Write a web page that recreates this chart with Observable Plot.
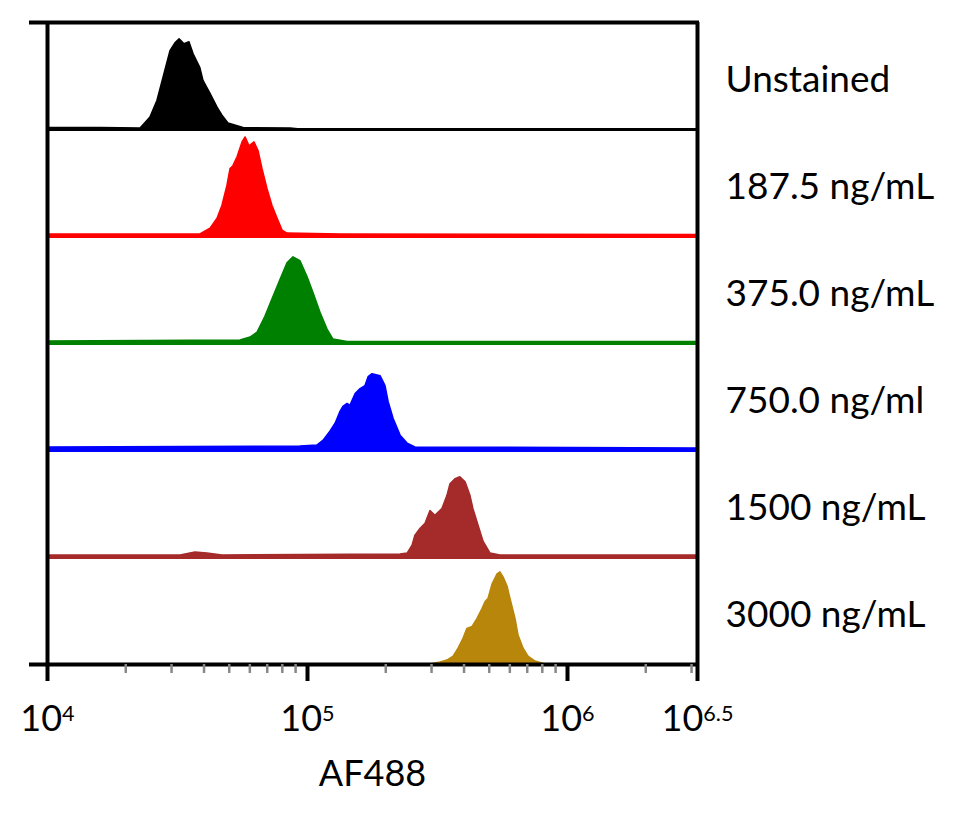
<!DOCTYPE html>
<html>
<head>
<meta charset="utf-8">
<script src="https://cdn.jsdelivr.net/npm/d3@7"></script>
<script src="https://cdn.jsdelivr.net/npm/@observablehq/plot@0.6"></script>
<style>
  body { margin: 0; background: #fff; }
</style>
</head>
<body>
<div id="chart"></div>
<script>
// Sample names, top to bottom, and their histogram colours
const groups = ["Unstained", "187.5 ng/mL", "375.0 ng/mL", "750.0 ng/ml", "1500 ng/mL", "3000 ng/mL"];
const colors = ["#000000", "#ff0000", "#008000", "#0000ff", "#a52a2a", "#b8860b"];

// Each histogram: [log10(AF488 intensity), event count (scaled to the row)]
const unstained = [
  [4.000, 1.5], [4.204, 1.5], [4.358, 1], [4.396, 12], [4.423, 29], [4.446, 52],
  [4.473, 79], [4.492, 87], [4.508, 91], [4.527, 86], [4.546, 88], [4.562, 76],
  [4.588, 62], [4.600, 49], [4.627, 36], [4.654, 22], [4.673, 14], [4.696, 6],
  [4.754, 1.5], [4.935, 1], [4.973, 0], [6.500, 0]
];
const dose187 = [
  [4.000, 2], [4.396, 2], [4.588, 2], [4.627, 8], [4.654, 18], [4.673, 31],
  [4.692, 51], [4.704, 68], [4.715, 71], [4.731, 80], [4.750, 95], [4.762, 100],
  [4.777, 91], [4.796, 95], [4.812, 86], [4.827, 68], [4.846, 48], [4.865, 31],
  [4.885, 18], [4.904, 6], [4.923, 3], [5.127, 2], [6.500, 1.5]
];
const dose375 = [
  [4.000, 2], [4.742, 3], [4.781, 6], [4.808, 11], [4.838, 27], [4.869, 47],
  [4.896, 64], [4.923, 81], [4.946, 87], [4.973, 83], [5.000, 67], [5.023, 51],
  [5.050, 31], [5.077, 14], [5.100, 4], [5.154, 1.5], [6.500, 1.5]
];
const dose750 = [
  [4.000, 3], [4.973, 4], [5.038, 5], [5.062, 10], [5.088, 19], [5.108, 27],
  [5.127, 39], [5.138, 44], [5.154, 47], [5.165, 45], [5.185, 57], [5.204, 62],
  [5.223, 65], [5.235, 74], [5.250, 77], [5.281, 75], [5.300, 65], [5.312, 49],
  [5.331, 32], [5.358, 15], [5.385, 7], [5.415, 3], [6.500, 2]
];
const dose1500 = [
  [4.000, 2], [4.512, 2], [4.569, 5], [4.615, 4], [4.673, 2], [5.358, 3],
  [5.385, 4], [5.404, 12], [5.415, 22], [5.435, 29], [5.454, 34], [5.473, 47],
  [5.492, 42], [5.519, 49], [5.538, 62], [5.550, 74], [5.569, 79], [5.588, 81],
  [5.608, 76], [5.627, 62], [5.638, 49], [5.658, 32], [5.677, 16], [5.704, 4],
  [5.742, 2], [6.500, 2]
];
const dose3000 = [
  [4.000, 0], [5.473, 0], [5.512, 2], [5.538, 4], [5.562, 8], [5.581, 16],
  [5.600, 26], [5.615, 36], [5.635, 38], [5.654, 46], [5.673, 56], [5.685, 63],
  [5.696, 66], [5.712, 81], [5.731, 91], [5.742, 93], [5.754, 88], [5.769, 79],
  [5.781, 66], [5.800, 46], [5.812, 29], [5.831, 16], [5.850, 8], [5.877, 3],
  [5.915, 0], [6.500, 0]
];
const series = [unstained, dose187, dose375, dose750, dose1500, dose3000];

// Axis ticks: labelled decades and unlabelled minor ticks
const majorExponents = [4, 5, 6, 6.5];
const minorTicks = [
  2e4, 3e4, 4e4, 5e4, 6e4, 7e4, 8e4, 9e4,
  2e5, 3e5, 4e5, 5e5, 6e5, 7e5, 8e5, 9e5,
  2e6, 3e6
];
const yMax = 108;

const data = series.flatMap((s, i) =>
  s.map(([logI, count]) => ({group: groups[i], intensity: 10 ** logI, count}))
);

const chart = Plot.plot({
  width: 972,
  height: 821,
  marginLeft: 47,
  marginRight: 275,
  marginTop: 20,
  marginBottom: 155,
  style: {fontFamily: "Lato, 'Open Sans', sans-serif", background: "#fff", color: "#000"},
  x: {type: "log", domain: [10 ** majorExponents[0], 10 ** majorExponents[majorExponents.length - 1]], axis: null},
  y: {domain: [0, yMax], axis: null},
  fy: {domain: groups, padding: 0, axis: null},
  color: {domain: groups, range: colors},
  marks: [
    Plot.areaY(data, {
      x: "intensity", y: "count", fy: "group",
      fill: "group", stroke: "group", strokeWidth: 1.5, curve: "linear"
    }),
    // coloured baseline of each histogram
    Plot.ruleY(groups, {y: () => 0, fy: d => d, stroke: d => d, strokeWidth: 3}),
    // plot frame: left and right edges, top edge and x-axis line
    Plot.ruleX([10 ** majorExponents[0], 10 ** majorExponents[majorExponents.length - 1]], {stroke: "#000", strokeWidth: 4}),
    Plot.ruleY([{group: groups[0]}], {y: () => yMax, fy: "group", stroke: "#000", strokeWidth: 4, insetLeft: -18, insetRight: -2}),
    Plot.ruleY([{group: groups[groups.length - 1]}], {y: () => 0, fy: "group", stroke: "#000", strokeWidth: 4, insetLeft: -18, insetRight: -2}),
    // minor ticks
    Plot.axisX(minorTicks, {
      anchor: "bottom", tickSize: 9, stroke: "#888", strokeWidth: 2.5,
      tickFormat: () => "", label: null
    }),
    // decade ticks with labels
    Plot.axisX(majorExponents.map(e => 10 ** e), {
      anchor: "bottom", tickSize: 17, stroke: "#000", strokeWidth: 4,
      tickPadding: 24, fontSize: 36,
      tickFormat: d => "10^" + (+Math.log10(d).toFixed(1)),
      label: null
    }),
    Plot.axisX([], {
      anchor: "bottom", tickSize: 0, fontSize: 36,
      label: "AF488", labelAnchor: "center", labelOffset: 121, labelArrow: "none"
    }),
    // sample names on the right
    Plot.axisFy({
      anchor: "right", tickSize: 0, tickPadding: 28, fontSize: 37,
      dy: 4, label: null
    })
  ]
});

// render exponents as superscripts
d3.select(chart).selectAll("text").each(function () {
  const t = this.textContent;
  if (this.childElementCount === 0 && /^10\^/.test(t)) {
    const exp = t.slice(3);
    this.textContent = "10";
    d3.select(this).append("tspan")
      .attr("dy", "-0.48em")
      .attr("font-size", "0.6em")
      .text(exp);
  }
});

document.getElementById("chart").append(chart);
</script>
</body>
</html>
